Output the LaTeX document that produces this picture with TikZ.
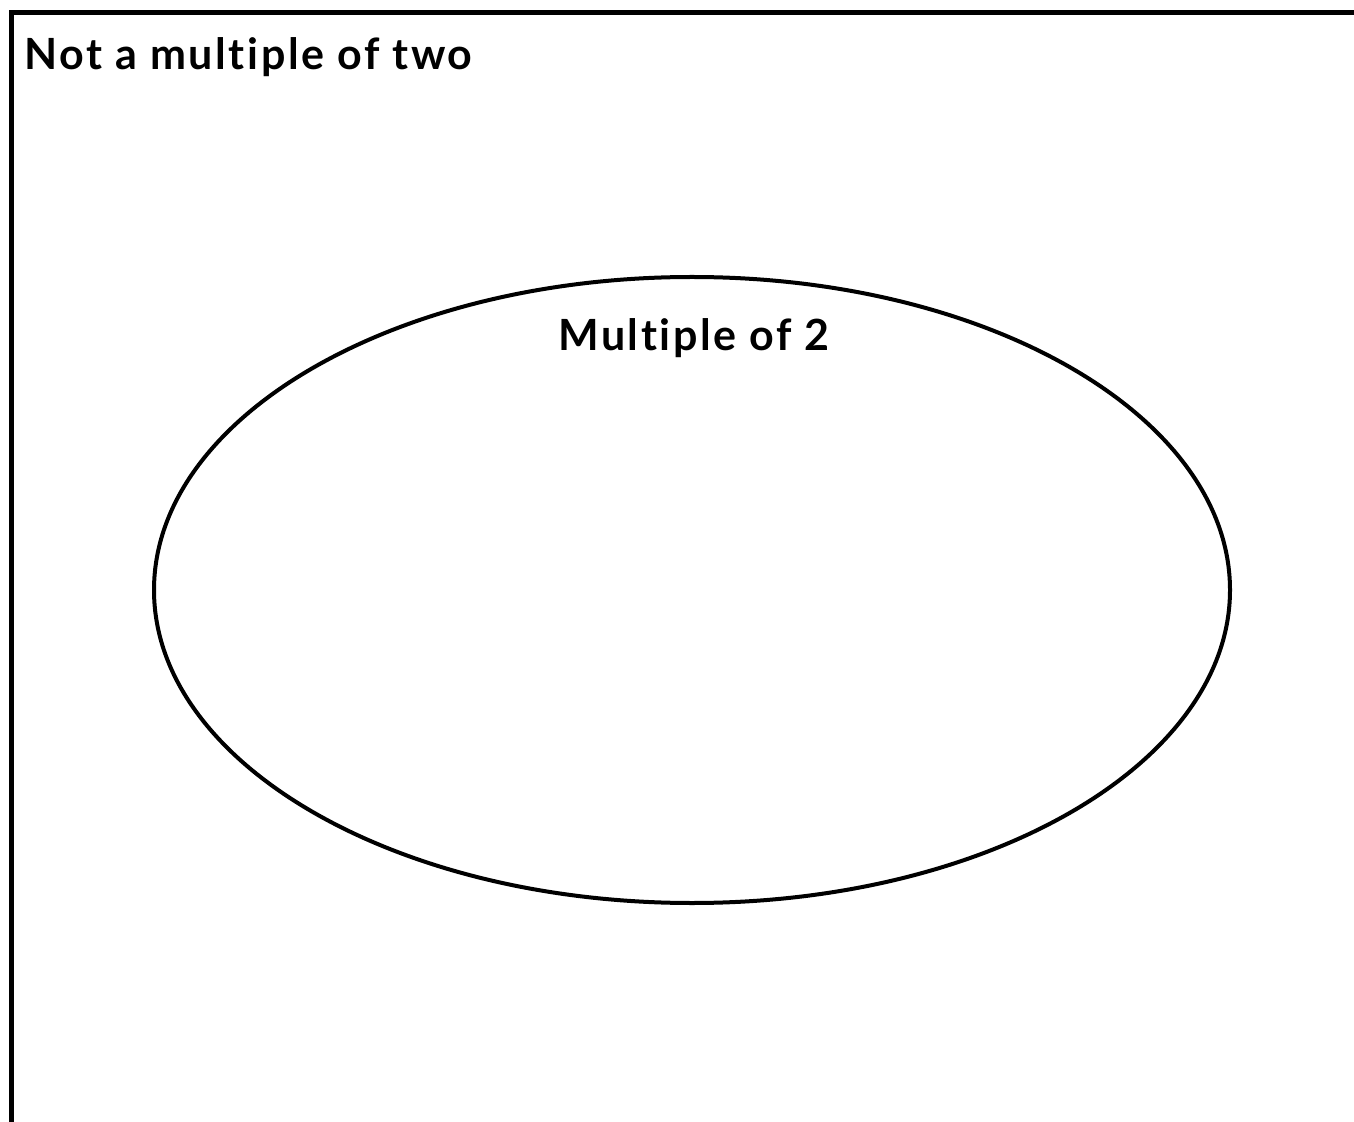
\documentclass[tikz,border=0pt]{standalone}
\usepackage{fontspec}
\setmainfont[Ligatures=NoCommon, LetterSpace=6]{Lato}
\usetikzlibrary{positioning, shapes.geometric}

\begin{document}
\begin{tikzpicture}[
    x=0.5pt, y=-0.5pt,
    frame/.style={draw, line width=2.5pt},
    setring/.style={draw, ellipse, line width=2pt, minimum width=538pt, minimum height=313pt, inner sep=0pt},
    heading/.style={font=\bfseries\fontsize{21.5}{25}\selectfont, inner sep=0pt},
]
\useasboundingbox (0,0) rectangle (1354,1122);
\clip (0,0) rectangle (1354,1122);

% outer region
\draw[frame] (1400,12.5) -- (11.5,12.5) -- (11.5,1200);
\node[heading, anchor=base west] (outside) at (24,70) {Not a multiple of two};

% set of multiples
\node[setring] (evens) at (692,590) {};
\node[heading, anchor=base] (evenslabel) at (694,351) {Multiple of 2};

\end{tikzpicture}
\end{document}
